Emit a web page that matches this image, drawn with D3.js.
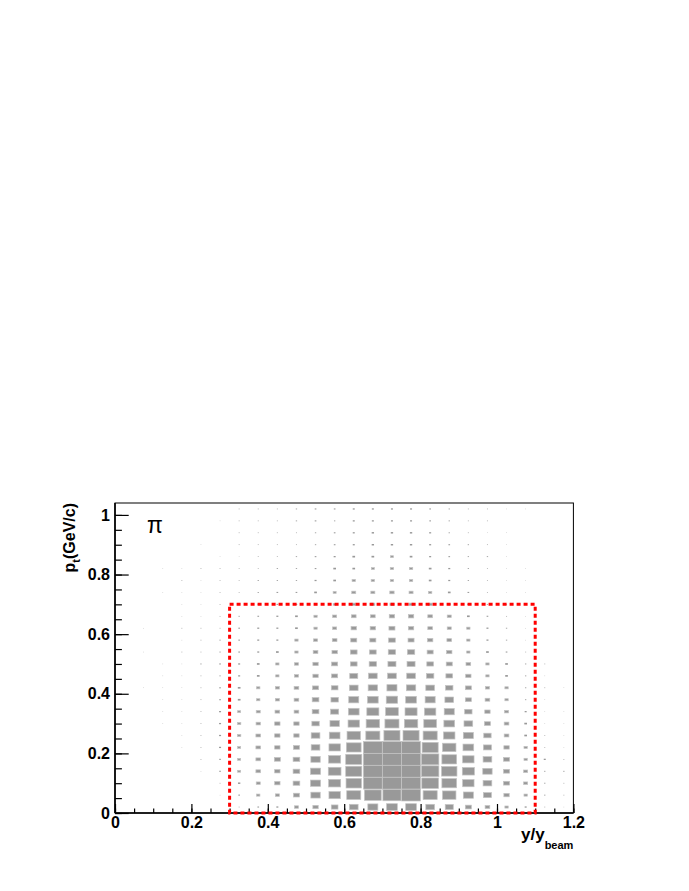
<!DOCTYPE html>
<html>
<head>
<meta charset="utf-8">
<script src="https://cdn.jsdelivr.net/npm/d3@7"></script>
<style>
  html, body { margin: 0; padding: 0; background: #fff; }
  svg { display: block; }
  text { font-family: "Liberation Sans", Arial, Helvetica, sans-serif; }
</style>
</head>
<body>
<svg id="chart" width="689" height="891"></svg>
<script>
// x bins: y/y_beam, width 0.05 (centers)
const xCenters = d3.range(24).map(i => +(0.025 + 0.05 * i).toFixed(3));
// y bins: pt (GeV/c), width 0.04 (centers), listed top row first
const ptCenters = [1.02, 0.98, 0.94, 0.90, 0.86, 0.82, 0.78, 0.74, 0.70, 0.66, 0.62, 0.58, 0.54,
                   0.50, 0.46, 0.42, 0.38, 0.34, 0.30, 0.26, 0.22, 0.18, 0.14, 0.10, 0.06, 0.02];
const xBinWidth = 0.05;
const ptBinWidth = 0.04;

// cell contents (rows match ptCenters, columns match xCenters)
const counts = [
  [0,0,0,0,0,0,9,9,9,16,25,25,36,36,36,36,25,16,9,9,4,4,0,0],
  [0,0,0,0,0,4,9,9,9,16,25,16,36,36,36,36,25,16,9,9,0,0,0,0],
  [0,0,0,0,0,0,9,9,9,9,16,25,36,49,49,49,36,16,9,4,4,0,0,0],
  [0,0,0,0,4,0,9,9,9,9,16,25,36,49,49,49,36,25,16,9,4,0,0,0],
  [0,0,0,0,0,4,4,9,9,16,25,36,64,64,81,64,36,25,16,16,4,0,0,0],
  [0,0,4,4,9,9,9,9,16,16,25,64,64,81,100,100,64,36,16,9,4,4,0,0],
  [0,0,0,9,4,9,9,16,16,16,36,64,100,100,100,100,64,36,16,9,4,4,0,0],
  [0,0,4,4,4,9,9,16,25,25,64,81,144,144,169,144,100,64,25,9,4,4,0,0],
  [0,0,0,4,4,9,9,16,25,25,64,81,144,144,144,144,144,64,36,16,9,4,0,0],
  [0,0,0,4,4,9,16,25,36,64,100,144,196,196,256,256,196,144,64,25,9,4,0,0],
  [0,4,0,9,9,9,25,36,36,64,100,144,256,256,324,256,196,144,100,36,16,4,0,0],
  [0,0,0,4,9,16,25,36,36,100,144,196,324,324,400,324,256,196,100,36,16,4,0,0],
  [0,4,0,9,9,16,25,36,64,100,196,256,400,400,484,484,324,256,100,64,25,9,0,0],
  [0,0,4,4,16,25,36,64,100,144,256,324,400,484,576,576,400,324,196,100,64,16,9,0],
  [0,0,4,4,9,16,36,64,100,144,256,324,576,676,676,676,484,400,256,100,64,16,4,0],
  [0,4,4,4,9,25,64,100,144,196,324,400,676,784,900,784,676,484,324,144,100,16,9,4],
  [0,0,4,4,9,25,64,100,144,196,400,484,900,1024,1156,1024,900,676,324,196,100,16,4,0],
  [0,0,4,4,9,36,81,144,196,196,400,576,1024,1296,1444,1296,1156,900,484,256,144,36,4,4],
  [0,0,4,4,9,36,100,169,256,256,484,784,1156,1600,1764,1600,1444,1024,676,324,196,64,4,4],
  [0,0,0,4,9,36,100,196,256,256,676,1024,1600,1764,2304,2304,1764,1156,900,484,196,64,9,4],
  [0,0,0,4,9,36,81,196,256,324,676,1156,1936,3150,3200,3180,2304,1600,1024,576,256,100,9,4],
  [0,0,0,0,9,25,81,196,324,400,784,1296,2304,3200,3249,3220,2704,1936,1156,676,324,100,36,9],
  [0,0,0,0,4,25,81,196,256,400,900,1444,2304,3190,3249,3230,2704,2116,1296,784,324,144,16,16],
  [0,0,0,0,0,9,49,144,256,400,900,1296,2116,3120,3180,3160,2500,1936,1156,676,324,144,16,9],
  [0,0,0,0,0,4,25,100,144,324,784,1156,1764,2500,2916,3136,1764,1600,900,576,256,100,16,9],
  [0,0,0,0,0,0,9,25,36,144,256,400,676,900,1024,1024,676,576,324,196,100,36,9,4]
];

const xTicks = [0, 0.2, 0.4, 0.6, 0.8, 1, 1.2];
const xTickLabels = ["0", "0.2", "0.4", "0.6", "0.8", "1", "1.2"];
const yTicks = [0, 0.2, 0.4, 0.6, 0.8, 1];
const yTickLabels = ["0", "0.2", "0.4", "0.6", "0.8", "1"];
const xMinorTicks = d3.range(0, 25).map(i => +(i * 0.05).toFixed(2));
const yMinorTicks = d3.range(0, 21).map(i => +(i * 0.05).toFixed(2));

// selection window (y/y_beam 0.3-1.1, pt 0-0.7)
const cutX = [0.3, 1.1];
const cutPt = [0, 0.7];

const particleLabel = "π";

const svg = d3.select("#chart");
const L = 115, R = 573.4, T = 503, B = 813;
const x = d3.scaleLinear().domain([0, 1.2]).range([L, R]);
const y = d3.scaleLinear().domain([0, 1.04]).range([B, T]);

const vmax = d3.max(counts.flat());
const sizeScale = d3.scaleSqrt().domain([0, vmax]).range([0, 1]);

const cells = [];
counts.forEach((row, j) => row.forEach((v, i) => {
  if (v > 0) cells.push({ xc: xCenters[i], pt: ptCenters[j], v });
}));

const binW = x(xBinWidth) - x(0);
const binH = y(0) - y(ptBinWidth);

svg.append("g").selectAll("rect").data(cells).join("rect")
  .attr("x", d => x(d.xc) - sizeScale(d.v) * binW / 2)
  .attr("y", d => y(d.pt) - sizeScale(d.v) * binH / 2)
  .attr("width", d => sizeScale(d.v) * binW)
  .attr("height", d => sizeScale(d.v) * binH)
  .attr("fill", "#999999")
  .attr("stroke", d => sizeScale(d.v) * binW > 3 ? "#c4c4c4" : "none")
  .attr("stroke-width", 0.7);

// frame
svg.append("rect")
  .attr("x", L).attr("y", T).attr("width", R - L).attr("height", B - T)
  .attr("fill", "none").attr("stroke", "#000").attr("stroke-width", 1);

const fontSize = 16;
// x axis
const gx = svg.append("g").attr("transform", `translate(0,${B})`);
gx.call(d3.axisBottom(x).tickValues(xTicks).tickSizeInner(-9).tickSizeOuter(0).tickPadding(4)
  .tickFormat((d, i) => xTickLabels[i]));
gx.append("g").call(d3.axisBottom(x).tickValues(xMinorTicks).tickSizeInner(-4.5).tickSizeOuter(0).tickFormat(""));
gx.selectAll(".domain").remove();
gx.selectAll("line").attr("stroke", "#000").attr("stroke-width", 1.2);
gx.selectAll("text").attr("font-size", fontSize).attr("font-weight", "bold").attr("fill", "#000")
  .attr("font-family", '"Liberation Sans", Arial, sans-serif');
svg.append("line").attr("x1", L).attr("x2", R).attr("y1", B).attr("y2", B)
  .attr("stroke", "#000").attr("stroke-width", 1.6);

// y axis
const gy = svg.append("g").attr("transform", `translate(${L},0)`);
gy.call(d3.axisLeft(y).tickValues(yTicks).tickSizeInner(-13.7).tickSizeOuter(0).tickPadding(5)
  .tickFormat((d, i) => yTickLabels[i]));
gy.append("g").call(d3.axisLeft(y).tickValues(yMinorTicks).tickSizeInner(-6.9).tickSizeOuter(0).tickFormat(""));
gy.selectAll(".domain").remove();
gy.selectAll("line").attr("stroke", "#000").attr("stroke-width", 1.2);
gy.selectAll("text").attr("font-size", fontSize).attr("font-weight", "bold").attr("fill", "#000")
  .attr("font-family", '"Liberation Sans", Arial, sans-serif');
svg.append("line").attr("x1", L).attr("x2", L).attr("y1", T).attr("y2", B)
  .attr("stroke", "#000").attr("stroke-width", 1.6);

// red dashed selection window
svg.append("rect")
  .attr("x", x(cutX[0])).attr("y", y(cutPt[1]))
  .attr("width", x(cutX[1]) - x(cutX[0])).attr("height", y(cutPt[0]) - y(cutPt[1]))
  .attr("fill", "none").attr("stroke", "#ff0000").attr("stroke-width", 3)
  .attr("stroke-dasharray", "4,3");

// axis titles
const xt = svg.append("text")
  .attr("x", R).attr("y", 840).attr("text-anchor", "end")
  .attr("font-size", 17).attr("font-weight", "bold").attr("fill", "#000");
xt.append("tspan").text("y/y");
xt.append("tspan").attr("font-size", 11).attr("dy", 9).text("beam");

const yt = svg.append("text")
  .attr("transform", `translate(75,${T}) rotate(-90)`).attr("text-anchor", "end")
  .attr("font-size", 16).attr("font-weight", "bold").attr("fill", "#000");
yt.append("tspan").text("p");
yt.append("tspan").attr("font-size", 11).attr("dy", 5).text("t");
yt.append("tspan").attr("dy", -5).text("(GeV/c)");

// particle label
svg.append("text").attr("x", 147).attr("y", 533)
  .attr("font-family", '"Liberation Serif", "DejaVu Serif", serif')
  .attr("font-size", 23).attr("fill", "#000").text(particleLabel);
</script>
</body>
</html>
